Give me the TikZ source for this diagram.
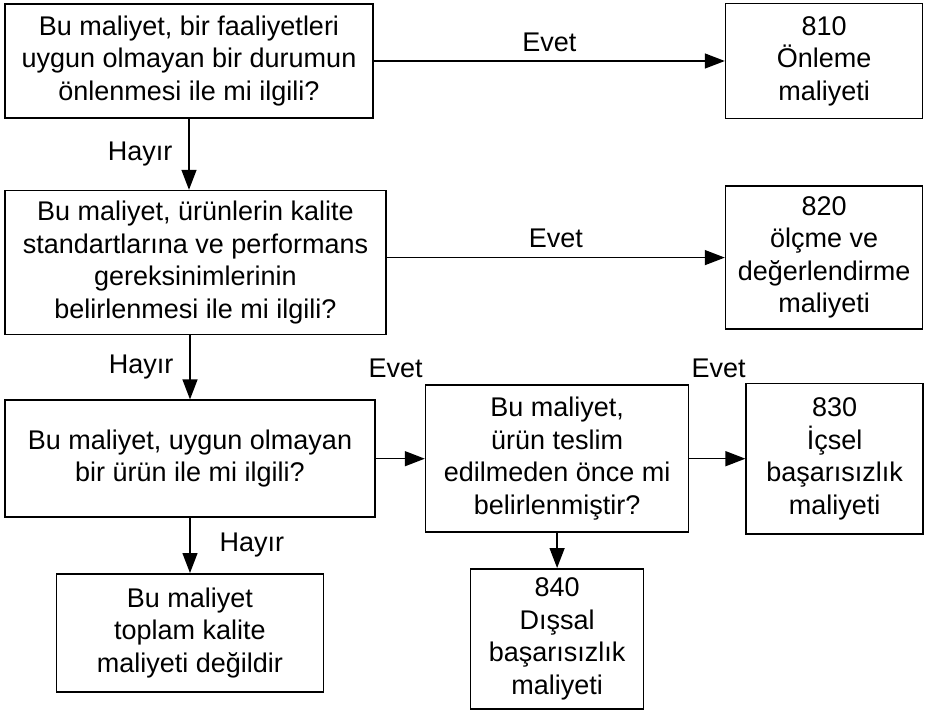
\documentclass[tikz,border=0pt]{standalone}
\usepackage{fontspec}
\setmainfont{Liberation Sans}
\usetikzlibrary{arrows.meta, positioning}
\newcommand{\boxline}{1.6pt}
\tikzstyle{question} = [% a question: yes goes right, no goes down
  rectangle,
  text centered,
  align=center,
  inner sep=2pt,
  draw=black,
  line width=\boxline
]
\tikzstyle{cost} = [% a cost group with its account number
  rectangle,
  text centered,
  align=center,
  inner sep=2pt,
  draw=black,
  line width=\boxline
]
\tikzstyle{answer} = [% yes / no beside a flow line
  inner sep=2pt
]
\tikzstyle{arrow} = [% arrow format
  ->,
  >={Triangle[length=20pt, width=15pt]},
  line width=1.4pt
]

\begin{document}
\begin{tikzpicture}[x=1pt, y=-1pt, font=\fontsize{27}{32.5}\selectfont]

\useasboundingbox[fill=white] (0,0) rectangle (930,711);

%%% Nodes
\node[question, minimum width=368pt, minimum height=114pt] (q1) at (189,61)
  {Bu maliyet, bir faaliyetleri\\uygun olmayan bir durumun\\önlenmesi ile mi ilgili?};
\node[cost, minimum width=197pt, minimum height=115pt] (c810) [right=351pt of q1]
  {810\\Önleme\\maliyeti};

\node[question, minimum width=381pt, minimum height=144pt] (q2) [below=71pt of q1.south west, anchor=north west]
  {Bu maliyet, ürünlerin kalite\\standartlarına ve performans\\gereksinimlerinin\\belirlenmesi ile mi ilgili?};
\node[cost, minimum width=197pt, minimum height=143pt] (c820) [below=66pt of c810]
  {820\\ölçme ve\\değerlendirme\\maliyeti};

\node[question, minimum width=370pt, minimum height=117pt] (q3) [below=64pt of q2.south west, anchor=north west]
  {Bu maliyet, uygun olmayan\\bir ürün ile mi ilgili?};
\node[question, minimum width=263pt, minimum height=147pt] (q4) [right=49pt of q3]
  {Bu maliyet,\\ürün teslim\\edilmeden önce mi\\belirlenmiştir?};
\node[cost, minimum width=177pt, minimum height=150pt] (c830) [right=56pt of q4]
  {830\\İçsel\\başarısızlık\\maliyeti};

\node[cost, minimum width=267pt, minimum height=118pt] (none) [below=55pt of q3]
  {Bu maliyet\\toplam kalite\\maliyeti değildir};
\node[cost, minimum width=173pt, minimum height=140pt] (c840) [below=35pt of q4]
  {840\\Dışsal\\başarısızlık\\maliyeti};

\node[answer] (evet3) [above left=4pt and 0pt of q4.north west] {Evet};
\node[answer] (evet4) [above right=4pt and 0pt of q4.north east] {Evet};


%%% Arrows
\draw[arrow] (q1.east) -- node[answer, above=7pt] {Evet} (c810.west);
\draw[arrow] (q1.south) -- node[answer, left=14pt] {Hayır} (q1.south |- q2.north);
\draw[arrow] (q2.east |- c820.west) -- node[answer, above=7pt] {Evet} (c820.west);
\draw[arrow] (q3.north |- q2.south) -- node[answer, left=14pt] {Hayır} (q3.north);
\draw[arrow] (q3) -- (q4);
\draw[arrow] (q4) -- (c830);
\draw[arrow] (q4) -- (c840);
\draw[arrow] (q3) -- node[answer, right=27pt] {Hayır} (none);

\end{tikzpicture}
\end{document}
